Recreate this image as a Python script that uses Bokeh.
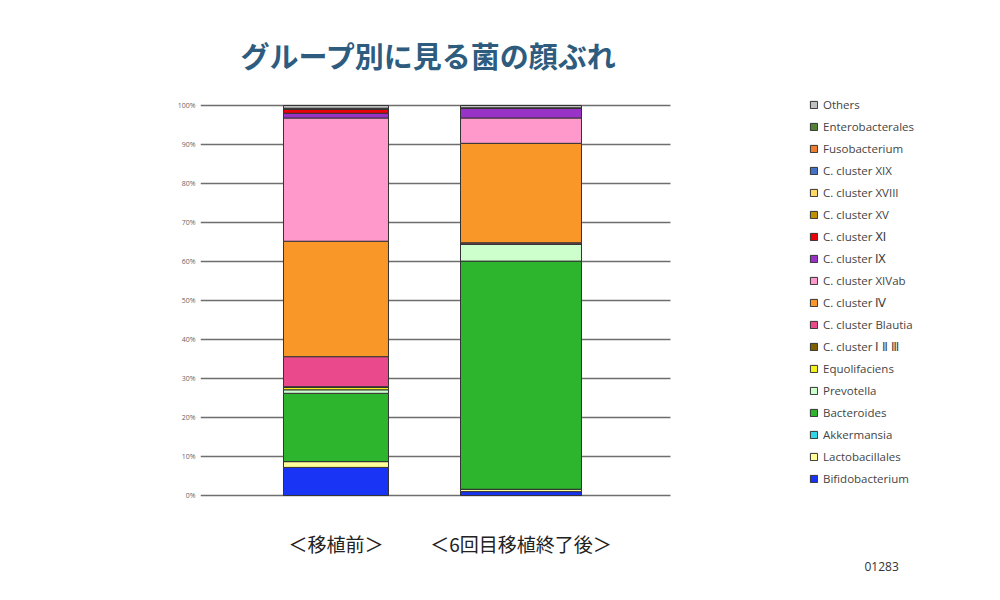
from bokeh.plotting import figure
from bokeh.models import (ColumnDataSource, Range1d, FixedTicker, PrintfTickFormatter,
                          Legend, LegendItem, Title, BoxAnnotation)
from bokeh.embed import file_html
from bokeh.resources import INLINE

# ---- data ----
groups = ["＜移植前＞", "＜6回目移植終了後＞"]
group_x = [1, 2]
bar_widths = [0.5676, 0.654]

# stacking order: bottom -> top
taxa = ["Bifidobacterium", "Lactobacillales", "Akkermansia", "Bacteroides", "Prevotella",
        "Equolifaciens", "C. cluster Ⅰ Ⅱ Ⅲ", "C. cluster Blautia", "C. cluster Ⅳ",
        "C. cluster XIVab", "C. cluster Ⅸ", "C. cluster Ⅺ", "C. cluster XV",
        "C. cluster XVIII", "C. cluster XIX", "Fusobacterium", "Enterobacterales", "Others"]

before = [7.2, 1.5, 0.0, 17.5, 0.9, 0.6, 0.2, 7.7, 29.6, 31.6, 1.2, 1.1, 0.0, 0.0, 0.0, 0.0, 0.2, 0.7]
after = [1.0, 0.6, 0.0, 58.5, 4.4, 0.0, 0.0, 0.3, 25.5, 6.5, 2.6, 0.0, 0.0, 0.0, 0.0, 0.0, 0.0, 0.6]

colors = ["#1a34f5", "#ffff99", "#33d6e6", "#2db52d", "#ccffcc", "#f2f21a", "#7f6000",
          "#ea4a8c", "#f99829", "#ff99cc", "#9933c8", "#e8000b", "#bf9000", "#ffd966",
          "#4472c4", "#ed7d31", "#548235", "#c0c0c0"]

y_ticks = list(range(0, 101, 10))

title_text = "グループ別に見る菌の顔ぶれ"
code_text = "01283"

# ---- source ----
data = {"x": group_x, "w": bar_widths}
keys = []
for i, name in enumerate(taxa):
    k = f"t{i}"
    keys.append(k)
    data[k] = [before[i], after[i]]
source = ColumnDataSource(data)

X0 = 0.2676          # left edge of the plotting area (data units)
X_GRID_END = 2.808   # right end of the gridded chart area
X1 = 4.5054          # right edge of the frame (legend lives out here)

p = figure(width=984, height=584, output_backend="svg", toolbar_location=None,
           x_range=Range1d(X0, X1), y_range=Range1d(-1.026, 106.41),
           min_border_left=200, min_border_right=0, min_border_top=80, min_border_bottom=85)
p.outline_line_color = None
p.background_fill_color = "white"

renderers = p.vbar_stack(keys, x="x", width="w", source=source, color=colors,
                         line_color="#333333", line_width=1)

# title above
p.title.text = title_text
p.title.align = "left"
p.title.offset = 40
p.title.standoff = 9
p.title.text_font = "Noto Sans CJK JP"
p.title.text_font_style = "bold"
p.title.text_font_size = "29px"
p.title.text_color = "#2e5c7e"

# y axis
p.yaxis.ticker = FixedTicker(ticks=y_ticks)
p.yaxis.formatter = PrintfTickFormatter(format="%d%%")
p.yaxis.axis_line_color = None
p.yaxis.major_tick_line_color = None
p.yaxis.minor_tick_line_color = None
p.yaxis.major_tick_out = 0
p.yaxis.major_label_text_font = "Open Sans"
p.yaxis.major_label_text_font_size = "7px"
p.yaxis.major_label_text_color = "#666666"
p.yaxis.major_label_standoff = 5

# x axis (group labels)
p.xaxis.ticker = FixedTicker(ticks=group_x)
p.xaxis.major_label_overrides = {gx: g for gx, g in zip(group_x, groups)}
p.xaxis.axis_line_color = None
p.xaxis.major_tick_line_color = None
p.xaxis.minor_tick_line_color = None
p.xaxis.major_tick_out = 0
p.xaxis.major_label_text_font = "Noto Sans CJK JP"
p.xaxis.major_label_text_font_size = "19px"
p.xaxis.major_label_text_color = "#222222"
p.xaxis.major_label_standoff = 30

# code number below
p.add_layout(Title(text=code_text, align="left", offset=664, standoff=0,
                   text_font="Open Sans", text_font_size="12px",
                   text_font_style="normal", text_color="#333333"), "below")

# grid (only across the chart area; the legend area is blanked)
p.xgrid.grid_line_color = None
p.ygrid.ticker = FixedTicker(ticks=y_ticks)
p.ygrid.grid_line_color = "#6e6e6e"
p.ygrid.grid_line_width = 1.5
p.add_layout(BoxAnnotation(left=X_GRID_END, fill_color="white", fill_alpha=1.0,
                           line_alpha=0), "center")

# legend (top = Others)
items = [LegendItem(label=taxa[i], renderers=[renderers[i]]) for i in reversed(range(len(taxa)))]
legend = Legend(items=items, location=(609, 13), orientation="vertical",
                glyph_width=9, glyph_height=9, label_height=14, spacing=7,
                label_standoff=5, padding=0, margin=0,
                label_text_font="Open Sans", label_text_font_size="11.5px",
                label_text_color="#444444",
                border_line_alpha=0, background_fill_alpha=0)
p.add_layout(legend, "center")

open("out.html", "w").write(file_html(p, INLINE))
